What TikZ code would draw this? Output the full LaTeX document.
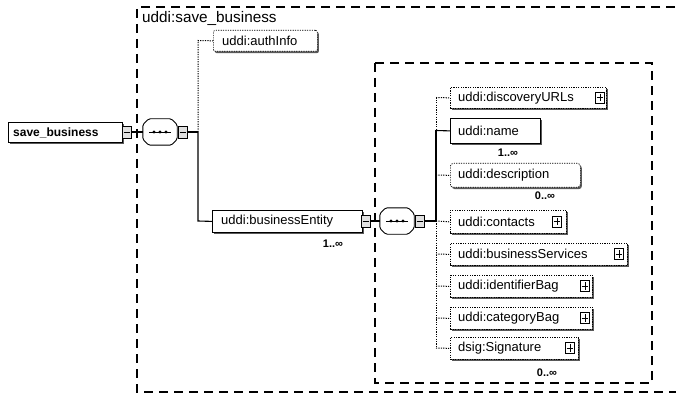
\documentclass[tikz,border=0pt]{standalone}
\usepackage{fontspec}
\setmainfont{Liberation Sans}
\usetikzlibrary{calc,shadows}

\tikzset{
  elem/.style={draw, line width=0.8pt, fill=white, minimum height=21pt, inner sep=0pt,
    anchor=north west, general shadow={shadow xshift=1.5pt, shadow yshift=-1.8pt, fill=black!65}},
  opt/.style={dash pattern=on 1.2pt off 1.2pt, line width=0.7pt},
  lbl/.style={anchor=west, inner sep=0pt, font=\fontsize{13}{15}\selectfont},
  mult/.style={inner sep=0pt, font=\bfseries\fontsize{11}{12}\selectfont},
  ctrl/.style={draw, line width=0.7pt, fill=black!12, minimum width=9pt, minimum height=12pt, inner sep=0pt},
  plusbox/.style={draw, line width=0.8pt, fill=white, minimum width=9pt, minimum height=11pt, inner sep=0pt},
  seqnode/.style={rectangle, minimum width=34pt, minimum height=26pt, inner sep=0pt},
  groupbox/.style={dash pattern=on 9pt off 6pt, line width=1.1pt},
  link/.style={line width=1.1pt},
  optlink/.style={dash pattern=on 1.2pt off 1.2pt, line width=1pt},
}

\newcommand{\plusicon}[2]{%
  \node[plusbox] (#1) at (#2) {};
  \draw[line width=0.8pt] ($(#1.north)+(0,2)$) -- ($(#1.south)+(0,-2)$);
  \draw[line width=0.8pt] ($(#1.west)+(1.5,0)$) -- ($(#1.east)+(-1.5,0)$);
}
\newcommand{\minusicon}[2]{%
  \node[ctrl] (#1) at (#2) {};
  \draw[line width=0.8pt] ($(#1.west)+(1.5,0)$) -- ($(#1.east)+(-1.5,0)$);
}
% octagonal sequence compositor with its three-dot symbol
\newcommand{\seqicon}[1]{%
  \fill[black!40, shift={(1.5,1.5)}]
    ($(#1.north west)+(6,0)$) -- ($(#1.north east)+(-6,0)$) -- ($(#1.north east)+(0,6)$)
    -- ($(#1.south east)+(0,-6)$) -- ($(#1.south east)+(-6,0)$) -- ($(#1.south west)+(6,0)$)
    -- ($(#1.south west)+(0,-6)$) -- ($(#1.north west)+(0,6)$) -- cycle;
  \draw[line width=0.9pt, fill=white, rounded corners=1.5pt]
    ($(#1.north west)+(6,0)$) -- ($(#1.north east)+(-6,0)$) -- ($(#1.north east)+(0,6)$)
    -- ($(#1.south east)+(0,-6)$) -- ($(#1.south east)+(-6,0)$) -- ($(#1.south west)+(6,0)$)
    -- ($(#1.south west)+(0,-6)$) -- ($(#1.north west)+(0,6)$) -- cycle;
  \draw[line width=0.9pt] ($(#1.center)+(-11,0)$) -- ($(#1.center)+(11,0)$);
  \foreach \dx in {-6,0,6} \fill ($(#1.center)+(\dx,0)$) circle (1.7pt);
}

\begin{document}
\begin{tikzpicture}[x=1pt,y=-1pt]
\useasboundingbox (0,0) rectangle (676,395);

% outer group of the save_business type
\draw[groupbox] (690,7) -- (137,7) -- (137,392) -- (690,392);
\node[anchor=west, inner sep=0pt, font=\fontsize{15.3}{17}\selectfont] (title) at (142,18) {uddi:save\_business};

% inner group of the businessEntity type
\draw[groupbox] (375,63) rectangle (652,383);

% root element
\node[elem, minimum width=114pt, minimum height=20pt] (root) at (8,122) {};
\node[lbl, font=\bfseries\fontsize{12}{14}\selectfont] (rootlbl) at ($(root.west)+(5,0)$) {save\_business};
\minusicon{rc}{127,132}

% first sequence compositor
\node[seqnode] (seqA) at (160,132) {};
\seqicon{seqA}
\minusicon{sac}{183,132}
\draw[link] (rc.east) -- (seqA.west);
\coordinate (busA) at (198,132);
\draw[link] (sac.east) -- (busA);

% authInfo (optional)
\node[elem, opt, rounded corners=2pt, minimum width=104pt] (auth) at (213,30) {};
\node[lbl] (authlbl) at ($(auth.west)+(9,0)$) {uddi:authInfo};
\coordinate (busAtop) at (198,40.5);
\draw[optlink] (busA) -- (busAtop) -- (auth.west);

% businessEntity
\node[elem, minimum width=150pt, minimum height=22pt] (be) at (212,210) {};
\node[lbl] (belbl) at ($(be.west)+(9,0)$) {uddi:businessEntity};
\node[mult] (bem) at (333,244) {1..∞};
\coordinate (busAbot) at (198,221);
\draw[link] (busA) -- (busAbot) -- (be.west);
\minusicon{bec}{366,221}

% second sequence compositor
\node[seqnode] (seqB) at (397,221) {};
\seqicon{seqB}
\minusicon{sbc}{420,221}
\draw[link] (bec.east) -- (seqB.west);
\coordinate (busB) at (436,221);
\draw[link] (sbc.east) -- (busB);

% children of businessEntity
\node[elem, opt, minimum width=156pt] (disc) at (450,87) {};
\node[lbl] (disclbl) at ($(disc.west)+(8,0)$) {uddi:discoveryURLs};
\plusicon{discp}{600,97.5}

\node[elem, minimum width=90pt, minimum height=25pt] (name) at (450,118) {};
\node[lbl] (namelbl) at ($(name.west)+(8,0)$) {uddi:name};
\node[mult] (namem) at (508,153) {1..∞};

\node[elem, opt, rounded corners=3pt, minimum width=130pt, minimum height=24pt] (desc) at (450,163) {};
\node[lbl] (desclbl) at ($(desc.west)+(8,0)$) {uddi:description};
\node[mult] (descm) at (545,196) {0..∞};

\node[elem, opt, minimum width=116pt, minimum height=23pt] (cont) at (450,210) {};
\node[lbl] (contlbl) at ($(cont.west)+(8,0)$) {uddi:contacts};
\plusicon{contp}{557,221.5}

\node[elem, opt, minimum width=177pt, minimum height=22pt] (serv) at (450,243) {};
\node[lbl] (servlbl) at ($(serv.west)+(8,0)$) {uddi:businessServices};
\plusicon{servp}{619,254}

\node[elem, opt, minimum width=142pt, minimum height=22pt] (ident) at (450,275) {};
\node[lbl] (identlbl) at ($(ident.west)+(8,0)$) {uddi:identifierBag};
\plusicon{identp}{585,286}

\node[elem, opt, minimum width=142pt, minimum height=22pt] (cat) at (450,307) {};
\node[lbl] (catlbl) at ($(cat.west)+(8,0)$) {uddi:categoryBag};
\plusicon{catp}{585,318}

\node[elem, opt, minimum width=128pt, minimum height=22pt] (sig) at (450,337) {};
\node[lbl] (siglbl) at ($(sig.west)+(8,0)$) {dsig:Signature};
\plusicon{sigp}{570,348}
\node[mult] (sigm) at (547,373) {0..∞};

% bus of the second sequence
\coordinate (busBtop) at (436,97.5);
\coordinate (busBname) at (436,130.5);
\coordinate (busBsig) at (436,348);
\draw[optlink] (busBtop) -- (busBname);
\draw[link] (busBname) -- (busB);
\draw[optlink] (busB) -- (busBsig);
\draw[optlink] (busBtop) -- (disc.west);
\draw[link] (busBname) -- (name.west);
\draw[optlink] (436,175) -- (desc.west);
\draw[optlink] (busB) -- (cont.west);
\draw[optlink] (436,254) -- (serv.west);
\draw[optlink] (436,286) -- (ident.west);
\draw[optlink] (436,318) -- (cat.west);
\draw[optlink] (busBsig) -- (sig.west);
\end{tikzpicture}
\end{document}
